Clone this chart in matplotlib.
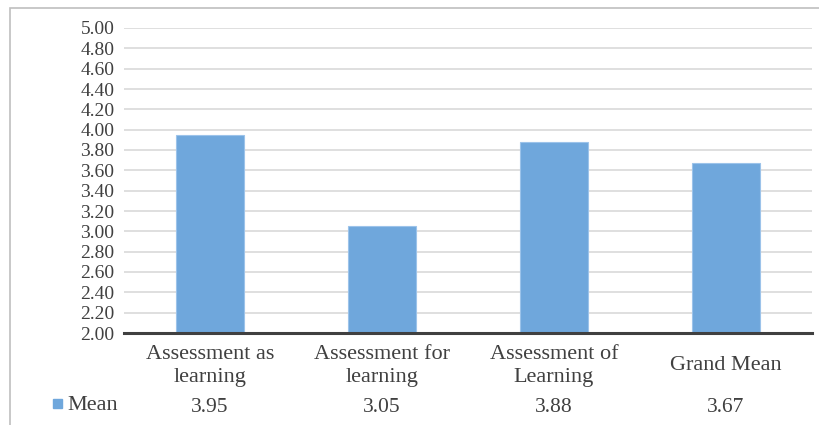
import matplotlib.pyplot as plt
from matplotlib.patches import Rectangle
import numpy as np

categories = ['Assessment as\nlearning', 'Assessment for\nlearning',
              'Assessment of\nLearning', 'Grand Mean']
means = [3.95, 3.05, 3.88, 3.67]
series_name = 'Mean'
y_ticks = np.arange(2.0, 5.01, 0.2)

bar_color = '#6fa7dc'
plt.rcParams['font.family'] = ['Liberation Serif', 'DejaVu Serif']

fig = plt.figure(figsize=(8.2, 4.25), dpi=100)
W, H = 820, 425
ax = fig.add_axes([124 / W, 1 - 333 / H, (812 - 124) / W, (333 - 28) / H])

x = np.arange(len(categories))
ax.bar(x, means, width=0.4, bottom=0, color=bar_color, edgecolor='#9cc3ea',
       linewidth=0.8, zorder=2)

ax.set_ylim(2.0, 5.0)
ax.set_xlim(-0.5, len(categories) - 0.5)
ax.set_yticks(y_ticks)
ax.set_yticklabels([f'{v:.2f}' for v in y_ticks], fontsize=14, color='#404040')
ax.tick_params(axis='y', length=0, pad=7)
ax.set_xticks([])
ax.grid(axis='y', color='#d9d9d9', linewidth=1.2, zorder=1)
for side in ['top', 'right', 'left']:
    ax.spines[side].set_visible(False)
ax.spines['bottom'].set_color('#404040')
ax.spines['bottom'].set_linewidth(2.2)
ax.spines['bottom'].set_zorder(3)

# category labels and data table row
for i, (cat, m) in enumerate(zip(categories, means)):
    ax.text(i, -0.107, cat, transform=ax.get_xaxis_transform(), ha='center',
            va='center', fontsize=16, color='#404040', linespacing=1.3)
    ax.text(i, -0.243, f'{m:.2f}', transform=ax.get_xaxis_transform(),
            ha='center', va='center', fontsize=15.5, color='#404040')

fig.patches.append(Rectangle((53 / W, 1 - 408 / H), 9 / W, 9 / H,
                             transform=fig.transFigure, color=bar_color))
fig.text(67 / W, 1 - 405 / H, series_name, ha='left', va='center',
         fontsize=16, color='#404040')

# outer chart border
fig.patches.append(Rectangle((10 / W, -0.05), 1.0, 1 - 8 / H + 0.05,
                             transform=fig.transFigure, fill=False,
                             edgecolor='#bfbfbf', linewidth=1.2))

fig.savefig('out.png', dpi=100)
